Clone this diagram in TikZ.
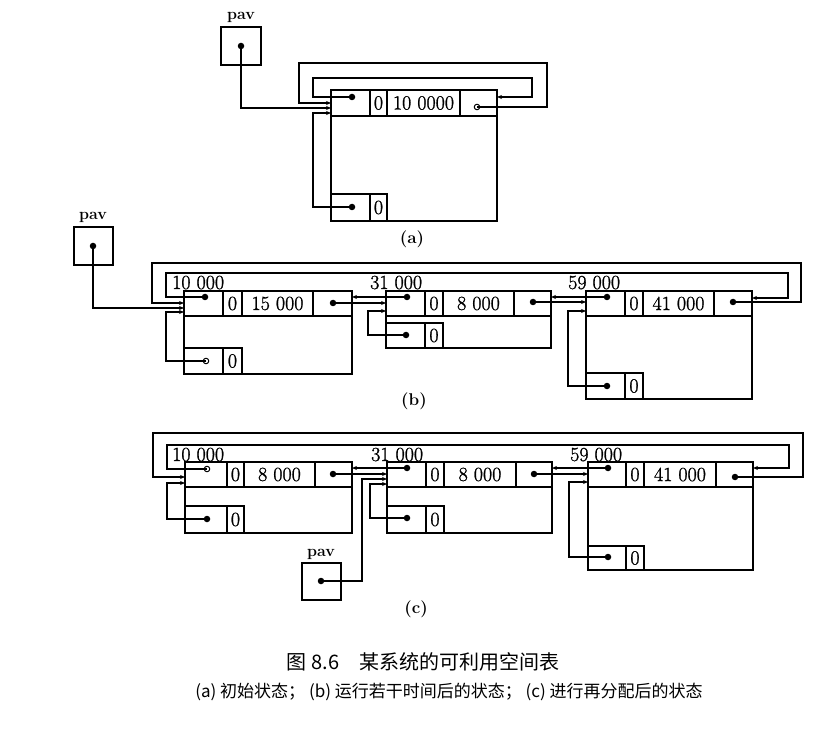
\documentclass[tikz,border=0pt]{standalone}
\usepackage{fontspec}
\newfontfamily\cjkfont{Noto Sans CJK SC}
\newfontfamily\numfont[FakeBold=1.2]{Latin Modern Roman}
\usetikzlibrary{arrows.meta}
\tikzset{
  cell/.style={draw, line width=1.4pt, inner sep=0pt, outer sep=0pt, anchor=north west,
    font=\numfont\fontsize{20}{24}\selectfont},
  link/.style={line width=1.2pt, -{Stealth[length=5pt,width=4pt]}},
  dot/.style={circle, fill, inner sep=0pt, minimum size=6.5pt},
  ring/.style={circle, draw, line width=1pt, fill=white, inner sep=0pt, minimum size=5.5pt},
  addr/.style={anchor=base west, inner sep=0pt, font=\numfont\fontsize{20}{24}\selectfont},
  ptrbox/.style={draw, line width=1.4pt, inner sep=0pt, outer sep=0pt, anchor=north west},
  ptrname/.style={anchor=base, inner sep=0pt, font=\fontsize{16}{19}\selectfont\bfseries},
  sublabel/.style={inner sep=0pt, font=\fontsize{17}{20}\selectfont\bfseries},
}
% header of a free block: id, x0..x4 (cell borders), top, bottom, size text
\newcommand\mkhead[9]{%
  \node[cell, minimum width={#3-#2}, minimum height={#8-#7}] (#1l) at (#2,#7) {};
  \node[cell, minimum width={#4-#3}, minimum height={#8-#7}] (#1t) at (#3,#7) {0};
  \node[cell, minimum width={#5-#4}, minimum height={#8-#7}] (#1s) at (#4,#7) {#9};
  \node[cell, minimum width={#6-#5}, minimum height={#8-#7}] (#1r) at (#5,#7) {};
}
% body and foot of a free block: id, x0, x4, header bottom, bottom, foot x1, foot x2, foot top
\newcommand\mkbody[8]{%
  \node[cell, minimum width={#3-#2}, minimum height={#5-#4}] (#1b) at (#2,#4) {};
  \node[cell, minimum width={#6-#2}, minimum height={#5-#8}] (#1u) at (#2,#8) {};
  \node[cell, minimum width={#7-#6}, minimum height={#5-#8}] (#1v) at (#6,#8) {0};
}
\begin{document}
\begin{tikzpicture}[x=1pt,y=-1pt]
\useasboundingbox[fill=white] (0,0) rectangle (836,730);

% ---------------- (a) initial state ----------------
\node[ptrbox, minimum width=40, minimum height=38] (pa) at (221,27) {};
\node[ptrname] (pa-n) at (241,20) {pav};
\node[dot] (pa-d) at (241,46) {};
\mkhead{a1}{331}{370}{387}{460}{497}{90}{116}{10 0000}
\mkbody{a1}{331}{497}{116}{221}{370}{387}{194}
\node[dot] (a1-ld) at (352,97) {};
\node[ring] (a1-rd) at (477,107) {};
\node[dot] (a1-ud) at (352,207) {};
\draw[link] (pa-d.center) |- (a1l.west |- 0,108);
\draw[link] (a1-ld.center) -| (313,78) -| (532,97) -- (a1r.east |- 0,97);
\draw[link] (a1-rd.center) -| (547,63) -| (299,103) -- (a1l.west |- 0,103);
\draw[link] (a1-ud.center) -| (313,113) -- (a1l.west |- 0,113);
\node[sublabel] (cap-a) at (412,239) {(a)};

% ---------------- (b) after running for a while ----------------
\node[ptrbox, minimum width=39, minimum height=38] (pb) at (74,227) {};
\node[ptrname] (pb-n) at (93,220) {pav};
\node[dot] (pb-d) at (93,246) {};
\mkhead{b1}{184}{223}{242}{313}{352}{291}{316}{15 000}
\mkbody{b1}{184}{352}{316}{374}{223}{242}{348}
\mkhead{b2}{386}{425}{443}{514}{551}{291}{316}{8 000}
\mkbody{b2}{386}{551}{316}{348}{425}{443}{323}
\mkhead{b3}{586}{625}{643}{714}{752}{291}{316}{41 000}
\mkbody{b3}{586}{752}{316}{399}{625}{643}{373}
\node[addr] (b1-a) at (172,289) {10 000};
\node[addr] (b2-a) at (370,289) {31 000};
\node[addr] (b3-a) at (568,289) {59 000};
\node[dot] (b1-ld) at (205,297) {};
\node[dot] (b1-rd) at (333,303) {};
\node[ring] (b1-ud) at (206,361) {};
\node[dot] (b2-ld) at (407,297) {};
\node[dot] (b2-rd) at (533,302) {};
\node[dot] (b2-ud) at (406,335) {};
\node[dot] (b3-ld) at (607,297) {};
\node[dot] (b3-rd) at (733,302) {};
\node[dot] (b3-ud) at (607,386) {};
\draw[link] (pb-d.center) |- (b1l.west |- 0,308);
\draw[link] (b3-rd.center) -| (801,263) -| (152,303) -- (b1l.west |- 0,303);
\draw[link] (b1-ld.center) -| (166,273) -| (788,298) -- (b3r.east |- 0,298);
\draw[link] (b1-ud.center) -| (166,312) -- (b1l.west |- 0,312);
\draw[link] (b1-rd.center) -- (b2l.west |- b1-rd);
\draw[link] (b2-ld.center) -- (b1r.east |- b2-ld);
\draw[link] (b2-ud.center) -| (368,311) -- (b2l.west |- 0,311);
\draw[link] (b2-rd.center) -- (b3l.west |- b2-rd);
\draw[link] (b3-ld.center) -- (b2r.east |- b3-ld);
\draw[link] (b3-ud.center) -| (568,311) -- (b3l.west |- 0,311);
\node[sublabel] (cap-b) at (414,401) {(b)};

% ---------------- (c) after reallocation ----------------
\node[ptrbox, minimum width=39, minimum height=37] (pc) at (302,563) {};
\node[ptrname] (pc-n) at (321,556) {pav};
\node[dot] (pc-d) at (321,581) {};
\mkhead{c1}{185}{227}{244}{315}{352}{462}{487}{8 000}
\mkbody{c1}{185}{352}{487}{533}{227}{244}{506}
\mkhead{c2}{387}{426}{444}{516}{552}{462}{487}{8 000}
\mkbody{c2}{387}{552}{487}{533}{426}{444}{506}
\mkhead{c3}{588}{626}{644}{716}{753}{462}{487}{41 000}
\mkbody{c3}{588}{753}{487}{570}{626}{644}{546}
\node[addr] (c1-a) at (172,461) {10 000};
\node[addr] (c2-a) at (371,461) {31 000};
\node[addr] (c3-a) at (570,461) {59 000};
\node[ring] (c1-ld) at (207,469) {};
\node[dot] (c1-rd) at (333,474) {};
\node[dot] (c1-ud) at (207,519) {};
\node[dot] (c2-ld) at (407,468) {};
\node[dot] (c2-rd) at (534,474) {};
\node[dot] (c2-ud) at (407,518) {};
\node[dot] (c3-ld) at (608,468) {};
\node[dot] (c3-rd) at (735,477) {};
\node[dot] (c3-ud) at (608,557) {};
\draw[link] (pc-d.center) -| (362,479) -- (c2l.west |- 0,479);
\draw[link] (c3-rd.center) -| (803,433) -| (153,477) -- (c1l.west |- 0,477);
\draw[link] (c1-ld.center) -| (167,445) -| (789,468) -- (c3r.east |- 0,468);
\draw[link] (c1-ud.center) -| (167,483) -- (c1l.west |- 0,483);
\draw[link] (c1-rd.center) -- (c2l.west |- c1-rd);
\draw[link] (c2-ld.center) -- (c1r.east |- c2-ld);
\draw[link] (c2-ud.center) -| (370,484) -- (c2l.west |- 0,484);
\draw[link] (c2-rd.center) -- (c3l.west |- c2-rd);
\draw[link] (c3-ld.center) -- (c2r.east |- c3-ld);
\draw[link] (c3-ud.center) -| (569,482) -- (c3l.west |- 0,482);
\node[sublabel] (cap-c) at (416,609) {(c)};

% ---------------- caption ----------------
\node[inner sep=0pt, font=\cjkfont\fontsize{20}{23}\selectfont] (title) at (423,662)
  {图 8.6\quad 某系统的可利用空间表};
\node[inner sep=0pt, font=\cjkfont\fontsize{17}{20}\selectfont] (legend) at (449,692)
  {(a) 初始状态； (b) 运行若干时间后的状态； (c) 进行再分配后的状态};
\end{tikzpicture}
\end{document}
